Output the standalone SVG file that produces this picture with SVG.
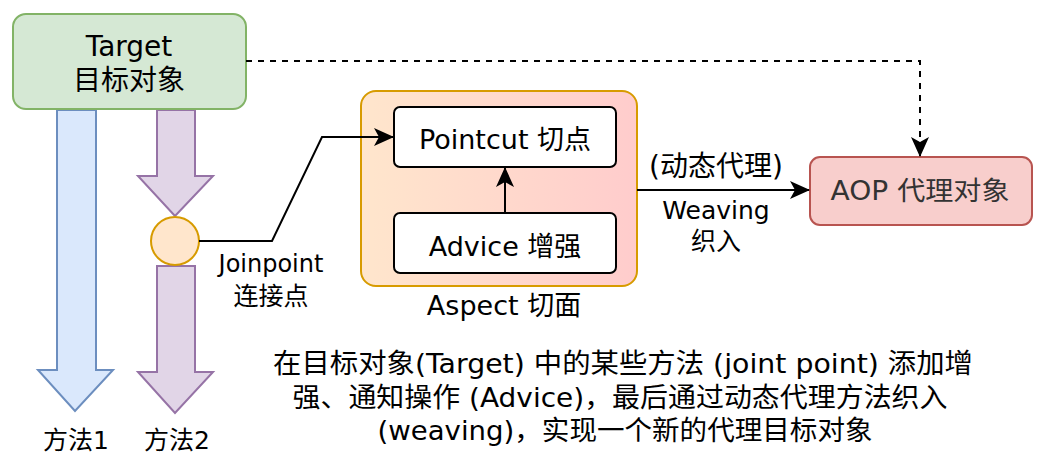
<svg xmlns="http://www.w3.org/2000/svg" width="1042" height="468" viewBox="0 0 1042 468">
<style>
text{font-family:"DejaVu Sans","Noto Sans CJK SC",sans-serif;font-size:27px;fill:#000;text-anchor:middle;dominant-baseline:central}
.ln{fill:none;stroke:#000;stroke-width:2}
.box{fill:#fff;stroke:#000;stroke-width:2}
.note{font-size:27px}
</style>
<defs>
<linearGradient id="asp" x1="0" y1="0" x2="1" y2="0">
<stop offset="0" stop-color="#ffe6cc"/><stop offset="1" stop-color="#ffcccc"/>
</linearGradient>
<marker id="ahb" viewBox="0 0 10 10" refX="9.5" refY="5" markerWidth="20" markerHeight="20" markerUnits="userSpaceOnUse" orient="auto">
<path d="M0,0.5 L10,5 L0,9.5 L2.5,5 Z" fill="#000"/>
</marker>
</defs>

<g id="method1">
<path d="M57,110 L96,110 L96,370 L113,370 L75,411 L38,370 L57,370 Z" fill="#dae8fc" stroke="#6c8ebf" stroke-width="2"/>
<text x="76" y="440" style="font-size:25px">方法1</text>
</g>
<g id="method2">
<path d="M157,110 L195,110 L195,176 L213,176 L175,216 L138,176 L157,176 Z" fill="#e1d5e7" stroke="#9673a6" stroke-width="2"/>
<path d="M157,266 L195,266 L195,372 L213,372 L175,413 L138,372 L157,372 Z" fill="#e1d5e7" stroke="#9673a6" stroke-width="2"/>
<text x="177" y="440" style="font-size:25px">方法2</text>
</g>
<g id="target">
<rect x="13" y="14" width="233" height="95" rx="13" fill="#d5e8d4" stroke="#82b366" stroke-width="2"/>
<text x="129" y="46" style="font-size:28px">Target</text>
<text x="129" y="80" style="font-size:28px">目标对象</text>
</g>
<g id="joinpoint">
<circle cx="175" cy="241" r="24" fill="#ffe6cc" stroke="#d79b00" stroke-width="2"/>
<text x="271" y="264" style="font-size:24px">Joinpoint</text>
<text x="271" y="296" style="font-size:25px">连接点</text>
</g>
<g id="aspect">
<rect x="361" y="91" width="276" height="195" rx="15" fill="url(#asp)" stroke="#d79b00" stroke-width="2"/>
<text x="504" y="305">Aspect 切面</text>
</g>
<g id="pointcut">
<rect class="box" x="394" y="107" width="222" height="60" rx="6"/>
<text x="505" y="139">Pointcut 切点</text>
</g>
<g id="advice">
<rect class="box" x="394" y="213" width="222" height="60" rx="6"/>
<text x="505" y="246">Advice 增强</text>
</g>
<g id="aop">
<rect x="810" y="157" width="222" height="68" rx="10" fill="#f8cecc" stroke="#b85450" stroke-width="2"/>
<text x="920" y="191" style="font-size:26px;fill:#333" textLength="179" lengthAdjust="spacingAndGlyphs">AOP 代理对象</text>
</g>
<g id="connectors">
<polyline class="ln" points="199,241 272,241 322,137 393,137" marker-end="url(#ahb)"/>
<line class="ln" x1="505" y1="213" x2="505" y2="168" marker-end="url(#ahb)"/>
<line class="ln" x1="637" y1="190" x2="809" y2="190" marker-end="url(#ahb)"/>
<polyline class="ln" points="246,61 920,61 920,156" stroke-dasharray="6,6" marker-end="url(#ahb)"/>
<text x="716" y="166" style="font-size:28px">(动态代理)</text>
<text x="716" y="210" style="font-size:25px">Weaving</text>
<text x="716" y="241" style="font-size:25px">织入</text>
</g>
<g id="note">
<text class="note" x="623" y="363" textLength="700" lengthAdjust="spacingAndGlyphs">在目标对象(Target) 中的某些方法 (joint point) 添加增</text>
<text class="note" x="620" y="397" textLength="655" lengthAdjust="spacingAndGlyphs">强、通知操作 (Advice)，最后通过动态代理方法织入</text>
<text class="note" x="625" y="430" textLength="495" lengthAdjust="spacingAndGlyphs">(weaving)，实现一个新的代理目标对象</text>
</g>
</svg>
